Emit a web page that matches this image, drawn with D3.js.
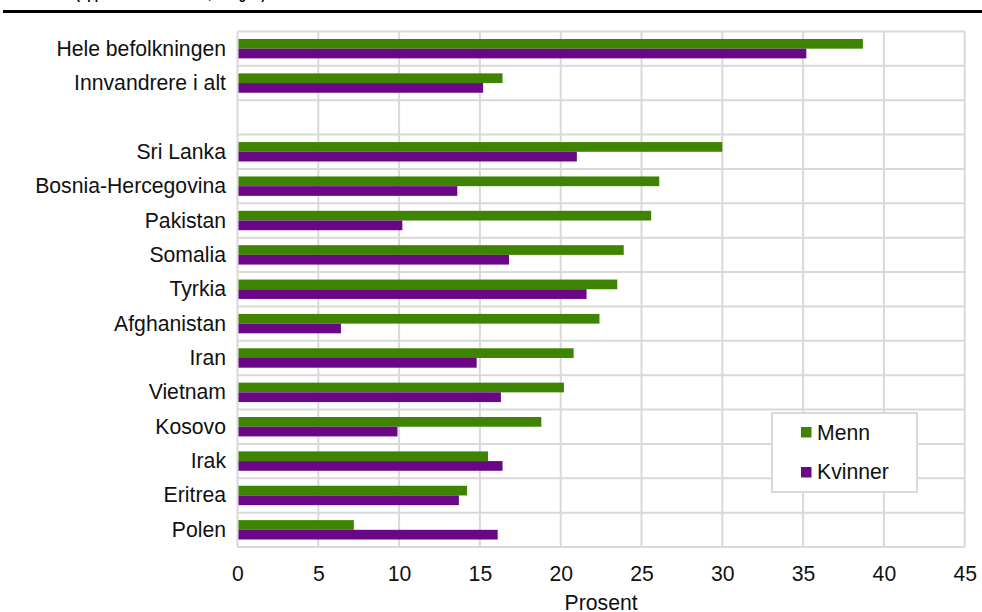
<!DOCTYPE html>
<html>
<head>
<meta charset="utf-8">
<script src="https://cdn.jsdelivr.net/npm/d3@7/dist/d3.min.js"></script>
<style>
  html, body { margin: 0; padding: 0; background: #fff; }
  svg { display: block; font-family: Arial, "Liberation Sans", sans-serif; }
</style>
</head>
<body>
<svg id="chart" width="982" height="612"></svg>
<script>
const categories = ["Hele befolkningen", "Innvandrere i alt", "", "Sri Lanka", "Bosnia-Hercegovina",
  "Pakistan", "Somalia", "Tyrkia", "Afghanistan", "Iran", "Vietnam", "Kosovo", "Irak", "Eritrea", "Polen"];
const menn =    [38.7, 16.4, null, 30.0, 26.1, 25.6, 23.9, 23.5, 22.4, 20.8, 20.2, 18.8, 15.5, 14.2, 7.2];
const kvinner = [35.2, 15.2, null, 21.0, 13.6, 10.2, 16.8, 21.6, 6.4, 14.8, 16.3, 9.9, 16.4, 13.7, 16.1];
const xTicks = [0, 5, 10, 15, 20, 25, 30, 35, 40, 45];
const seriesNames = ["Menn", "Kvinner"];
const titleText = "(oppholdstid minst 4 år, kategori)";
const axisTitle = "Prosent";

const colors = { Menn: "#3e8400", Kvinner: "#6a0787" };
const gridColor = "#d9d9d9";
const fontSize = 21.2;

const svg = d3.select("#chart");
const pLeft = 237.5, pRight = 964.7, pTop = 31.5, pBottom = 547;

const x = d3.scaleLinear().domain([0, 45]).range([pLeft, pRight]);
const y = d3.scaleBand().domain(categories.map((c, i) => i)).range([pTop, pBottom]);
const barH = 9.7;

// title (cut off at top, as in the reference) and thick rule
svg.append("text").attr("x", 76).attr("y", -1.5)
  .attr("font-weight", "bold").attr("font-size", 12).attr("fill", "#000").text(titleText);
svg.append("line").attr("x1", 3).attr("x2", 982).attr("y1", 11.5).attr("y2", 11.5)
  .attr("stroke", "#000").attr("stroke-width", 3);

// grid
const g = svg.append("g");
g.selectAll(".vg").data(xTicks).enter().append("line")
  .attr("x1", d => x(d)).attr("x2", d => x(d)).attr("y1", pTop).attr("y2", pBottom)
  .attr("stroke", gridColor).attr("stroke-width", 2);
const bounds = categories.map((c, i) => y(i)).concat([pBottom]);
g.selectAll(".hg").data(bounds).enter().append("line")
  .attr("x1", pLeft).attr("x2", pRight).attr("y1", d => d).attr("y2", d => d)
  .attr("stroke", gridColor).attr("stroke-width", 2);

// bars
const rows = categories.map((c, i) => ({ i, c, m: menn[i], k: kvinner[i] }));
const bars = svg.append("g");
bars.selectAll(".m").data(rows.filter(r => r.m != null)).enter().append("rect")
  .attr("x", x(0) + 1).attr("y", d => y(d.i) + y.bandwidth() / 2 - barH)
  .attr("width", d => x(d.m) - x(0) - 1).attr("height", barH).attr("fill", colors.Menn);
bars.selectAll(".k").data(rows.filter(r => r.k != null)).enter().append("rect")
  .attr("x", x(0) + 1).attr("y", d => y(d.i) + y.bandwidth() / 2)
  .attr("width", d => x(d.k) - x(0) - 1).attr("height", barH).attr("fill", colors.Kvinner);

// category labels
svg.append("g").selectAll("text").data(rows).enter().append("text")
  .attr("x", 226).attr("y", d => y(d.i) + y.bandwidth() / 2 + 7)
  .attr("text-anchor", "end").attr("font-size", fontSize).attr("fill", "#111").text(d => d.c);

// x axis via d3 axis
const xAxis = d3.axisBottom(x).tickValues(xTicks).tickSize(0).tickPadding(0);
const ax = svg.append("g").attr("transform", `translate(0,${pBottom})`).call(xAxis);
ax.select(".domain").remove();
ax.selectAll("text").attr("font-size", fontSize).attr("fill", "#111")
  .attr("font-family", "Arial, 'Liberation Sans', sans-serif").attr("dy", null).attr("y", 34);

svg.append("text").attr("x", (pLeft + pRight) / 2).attr("y", 609.5).attr("text-anchor", "middle")
  .attr("font-size", fontSize).attr("fill", "#111").text(axisTitle);

// legend
const lg = svg.append("g");
lg.append("rect").attr("x", 772).attr("y", 413).attr("width", 145).attr("height", 79)
  .attr("fill", "#fff").attr("stroke", gridColor).attr("stroke-width", 2);
seriesNames.forEach((s, i) => {
  lg.append("rect").attr("x", 801).attr("y", 427 + i * 40).attr("width", 10.5).attr("height", 10.5)
    .attr("fill", colors[s]);
  lg.append("text").attr("x", 817).attr("y", 440 + i * 39).attr("font-size", fontSize)
    .attr("fill", "#111").text(s);
});
</script>
</body>
</html>
